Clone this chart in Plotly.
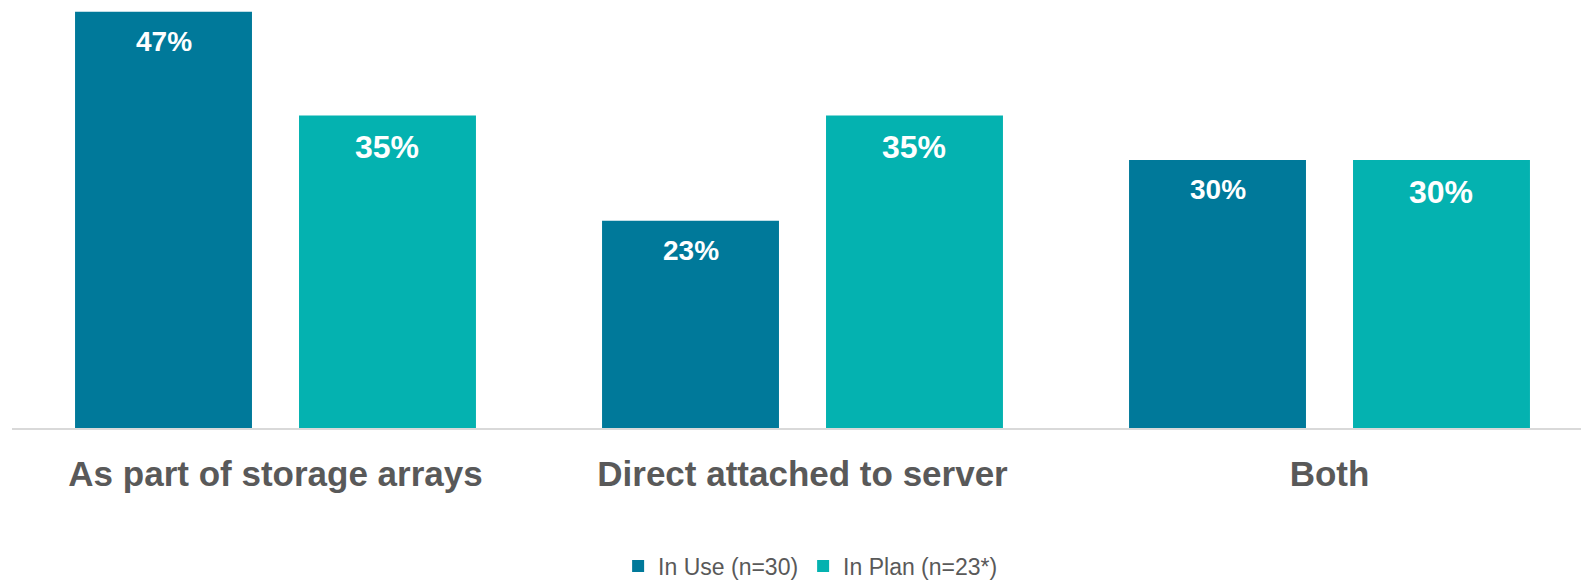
import plotly.graph_objects as go

categories = ["As part of storage arrays", "Direct attached to server", "Both"]
series_names = ["In Use (n=30)", "In Plan (n=23*)"]
in_use = [46.6, 23.2, 30.0]
in_plan = [35.0, 35.0, 30.0]
in_use_labels = ["47%", "23%", "30%"]
in_plan_labels = ["35%", "35%", "30%"]

colors = ["#00799A", "#04B2B0"]
x_pos = list(range(len(categories)))

BARGAP = 0.15
GROUPGAP = 0.21
slot = (1 - BARGAP) / 2

fig = go.Figure()
for name, vals, col in zip(series_names, [in_use, in_plan], colors):
    fig.add_trace(go.Bar(x=x_pos, y=vals, name=name, marker=dict(color=col, line=dict(width=0)),
                         hoverinfo="skip"))

annotations = []
for k, (vals, labels, fs) in enumerate([(in_use, in_use_labels, 28), (in_plan, in_plan_labels, 32)]):
    off = (k - 0.5) * slot
    for xi, v, t in zip(x_pos, vals, labels):
        annotations.append(dict(x=xi + off, y=v, xref="x", yref="y", text="<b>%s</b>" % t,
                                showarrow=False, yanchor="top", yshift=-12,
                                font=dict(family="Liberation Sans, Arial, sans-serif", size=fs, color="white")))

fig.update_layout(
    width=1581, height=581,
    margin=dict(l=12, r=0, t=0, b=153, autoexpand=False),
    paper_bgcolor="white", plot_bgcolor="white",
    barmode="group", bargap=BARGAP, bargroupgap=GROUPGAP,
    annotations=annotations,
    showlegend=True,
    legend=dict(orientation="h", x=0.509, xanchor="center", yref="container", y=1 - 566 / 581,
                yanchor="middle",
                font=dict(family="Liberation Sans, Arial, sans-serif", size=23, color="#595959"),
                traceorder="normal"),
    xaxis=dict(range=[-0.5, -0.5 + 1569 / 527], tickmode="array", tickvals=x_pos,
               ticktext=["<b>%s</b>" % c for c in categories], automargin=False,
               showline=True, linecolor="#D9D9D9", linewidth=2, showgrid=False, zeroline=False,
               ticks="outside", ticklen=14, tickcolor="rgba(0,0,0,0)",
               tickfont=dict(family="Liberation Sans, Arial, sans-serif", size=35, color="#595959")),
    yaxis=dict(range=[0, 427.5 / 8.92], showgrid=False, zeroline=False, showticklabels=False,
               showline=False, automargin=False),
    font=dict(family="Liberation Sans, Arial, sans-serif"),
)

fig.write_html("out.html")
